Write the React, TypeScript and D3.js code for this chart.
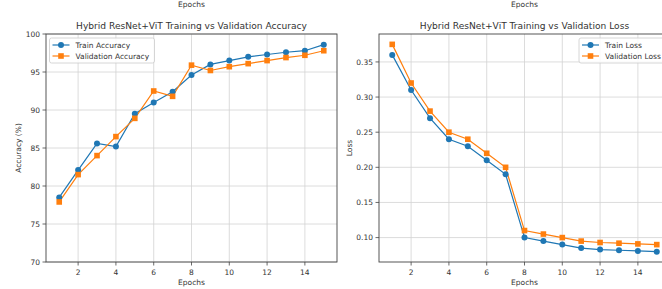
import * as d3 from "d3";

const epochs = [1, 2, 3, 4, 5, 6, 7, 8, 9, 10, 11, 12, 13, 14, 15];
const trainAcc = [78.5, 82.1, 85.6, 85.2, 89.5, 91.0, 92.4, 94.6, 96.0, 96.5, 97.0, 97.3, 97.6, 97.8, 98.6];
const valAcc = [77.9, 81.5, 84.0, 86.5, 88.9, 92.5, 91.8, 95.9, 95.2, 95.7, 96.1, 96.5, 96.9, 97.2, 97.8];
const trainLoss = [0.36, 0.31, 0.27, 0.24, 0.23, 0.21, 0.19, 0.1, 0.095, 0.09, 0.085, 0.083, 0.082, 0.081, 0.08];
const valLoss = [0.375, 0.32, 0.28, 0.25, 0.24, 0.22, 0.2, 0.11, 0.105, 0.1, 0.095, 0.093, 0.092, 0.091, 0.09];
const xTicks = [2, 4, 6, 8, 10, 12, 14];
const accTicks = [70, 75, 80, 85, 90, 95, 100];
const lossTicks = [0.1, 0.15, 0.2, 0.25, 0.3, 0.35];

const WIDTH = 662;
const HEIGHT = 289;
const TOP = 34;
const BOTTOM = 262;
const BLUE = "#1f77b4";
const ORANGE = "#ff7f0e";
const FONT = "DejaVu Sans, sans-serif";
const TEXT = "#333";

type PanelProps = {
  left: number;
  right: number;
  title: string;
  ylabel: string;
  train: number[];
  val: number[];
  yDomain: [number, number];
  yTicks: number[];
  yFormat: (v: number) => string;
  trainName: string;
  valName: string;
  legendRight: boolean;
};

const Panel = ({ left, right, title, ylabel, train, val, yDomain, yTicks, yFormat, trainName, valName, legendRight }: PanelProps) => {
  const pad = (d3.max(epochs)! - d3.min(epochs)!) * 0.05;
  const x = d3.scaleLinear().domain([d3.min(epochs)! - pad, d3.max(epochs)! + pad]).range([left, right]);
  const y = d3.scaleLinear().domain(yDomain).range([BOTTOM, TOP]);
  const line = d3.line<number>().x((_, i) => x(epochs[i])).y((d) => y(d));
  const cx = (left + right) / 2;

  // legend box
  const lw = legendRight ? 87 : 105;
  const lx = legendRight ? right - 4 - lw : left + 3.5;
  const ly = TOP + 4;

  return (
    <g>
      {/* grid */}
      {xTicks.map((t) => (
        <line key={"gx" + t} x1={x(t)} x2={x(t)} y1={TOP} y2={BOTTOM} stroke="#d3d3d3" strokeWidth={0.8} />
      ))}
      {yTicks.map((t) => (
        <line key={"gy" + t} x1={left} x2={right} y1={y(t)} y2={y(t)} stroke="#d3d3d3" strokeWidth={0.8} />
      ))}

      {/* lines */}
      <path d={line(train) ?? ""} fill="none" stroke={BLUE} strokeWidth={1.2} />
      <path d={line(val) ?? ""} fill="none" stroke={ORANGE} strokeWidth={1.2} />
      {train.map((d, i) => (
        <circle key={"t" + i} cx={x(epochs[i])} cy={y(d)} r={3} fill={BLUE} />
      ))}
      {val.map((d, i) => (
        <rect key={"v" + i} x={x(epochs[i]) - 2.8} y={y(d) - 2.8} width={5.6} height={5.6} fill={ORANGE} />
      ))}

      {/* spines */}
      <rect x={left} y={TOP} width={right - left} height={BOTTOM - TOP} fill="none" stroke="#444" strokeWidth={0.9} />

      {/* x ticks */}
      {xTicks.map((t) => (
        <g key={"xt" + t}>
          <line x1={x(t)} x2={x(t)} y1={BOTTOM} y2={BOTTOM + 3.5} stroke="#444" strokeWidth={0.8} />
          <text x={x(t)} y={BOTTOM + 12.5} textAnchor="middle" fontSize={7.5} fill={TEXT} fontFamily={FONT}>
            {t}
          </text>
        </g>
      ))}
      {/* y ticks */}
      {yTicks.map((t) => (
        <g key={"yt" + t}>
          <line x1={left - 3.5} x2={left} y1={y(t)} y2={y(t)} stroke="#444" strokeWidth={0.8} />
          <text x={left - 6} y={y(t)} dy="0.35em" textAnchor="end" fontSize={7.5} fill={TEXT} fontFamily={FONT}>
            {yFormat(t)}
          </text>
        </g>
      ))}

      {/* labels */}
      <text x={cx} y={TOP - 5} textAnchor="middle" fontSize={9.1} fill={TEXT} fontFamily={FONT}>
        {title}
      </text>
      <text x={cx} y={BOTTOM + 23} textAnchor="middle" fontSize={7.5} fill={TEXT} fontFamily={FONT}>
        Epochs
      </text>
      {/* x label of the row above, mostly cut off by the top edge */}
      <text x={cx} y={6.5} textAnchor="middle" fontSize={7.5} fill={TEXT} fontFamily={FONT}>
        Epochs
      </text>
      <text
        transform={`translate(${left - (legendRight ? 27 : 25)}, ${(TOP + BOTTOM) / 2}) rotate(-90)`}
        textAnchor="middle"
        fontSize={7.5}
        fill={TEXT}
        fontFamily={FONT}
      >
        {ylabel}
      </text>

      {/* legend */}
      <g>
        <rect x={lx} y={ly} width={lw} height={25} rx={2} fill="white" fillOpacity={0.85} stroke="#ccc" strokeWidth={0.8} />
        {[
          { name: trainName, color: BLUE, sq: false },
          { name: valName, color: ORANGE, sq: true },
        ].map((e, i) => {
          const ry = ly + 7 + i * 11;
          return (
            <g key={e.name}>
              <line x1={lx + 3} x2={lx + 20} y1={ry} y2={ry} stroke={e.color} strokeWidth={1.2} />
              {e.sq ? (
                <rect x={lx + 11.5 - 2.8} y={ry - 2.8} width={5.6} height={5.6} fill={e.color} />
              ) : (
                <circle cx={lx + 11.5} cy={ry} r={3} fill={e.color} />
              )}
              <text x={lx + 26} y={ry} dy="0.35em" fontSize={7.5} fill={TEXT} fontFamily={FONT}>
                {e.name}
              </text>
            </g>
          );
        })}
      </g>
    </g>
  );
};

export default function App() {
  const lossMin = d3.min([...trainLoss, ...valLoss])!;
  const lossMax = d3.max([...trainLoss, ...valLoss])!;
  const lp = (lossMax - lossMin) * 0.05;

  return (
    <svg
      width={WIDTH}
      height={HEIGHT}
      style={{ position: "absolute", left: 0, top: 0, background: "white" }}
    >
      <rect width={WIDTH} height={HEIGHT} fill="white" />
      <Panel
        left={46}
        right={337}
        title="Hybrid ResNet+ViT Training vs Validation Accuracy"
        ylabel="Accuracy (%)"
        train={trainAcc}
        val={valAcc}
        yDomain={[70, 100]}
        yTicks={accTicks}
        yFormat={(v) => d3.format("d")(v)}
        trainName="Train Accuracy"
        valName="Validation Accuracy"
        legendRight={false}
      />
      <Panel
        left={379}
        right={670}
        title="Hybrid ResNet+ViT Training vs Validation Loss"
        ylabel="Loss"
        train={trainLoss}
        val={valLoss}
        yDomain={[lossMin - lp, lossMax + lp]}
        yTicks={lossTicks}
        yFormat={(v) => d3.format(".2f")(v)}
        trainName="Train Loss"
        valName="Validation Loss"
        legendRight={true}
      />
    </svg>
  );
}
